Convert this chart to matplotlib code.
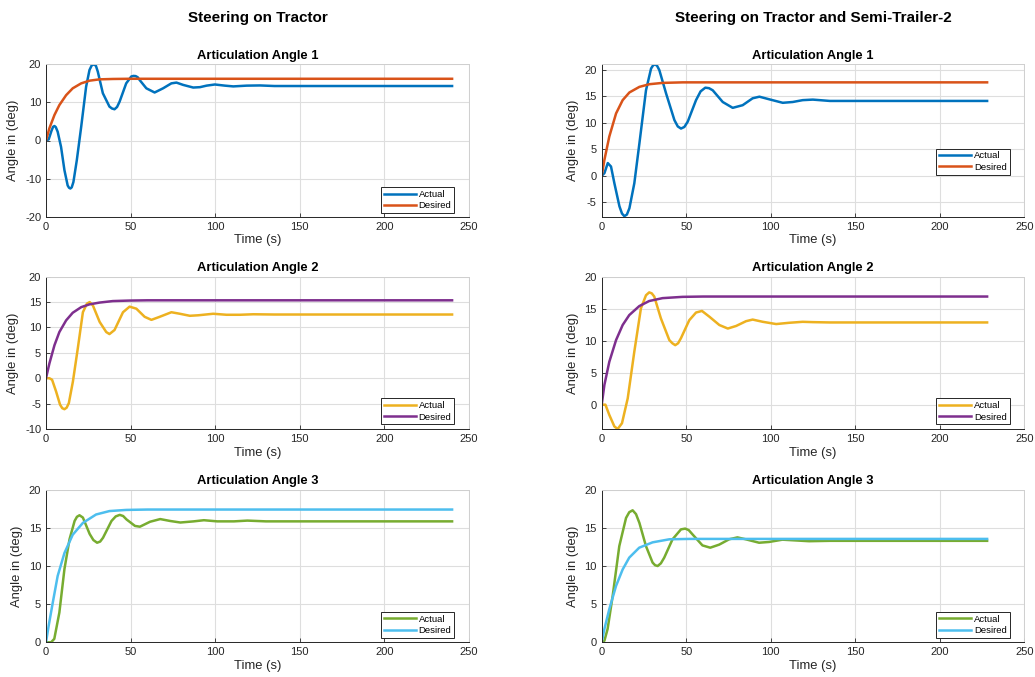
import numpy as np
import matplotlib
matplotlib.use('Agg')
import matplotlib.pyplot as plt

plt.rcParams['font.family'] = ['Liberation Sans', 'DejaVu Sans']
plt.rcParams['axes.unicode_minus'] = False
plt.rcParams['xtick.direction'] = 'in'
plt.rcParams['ytick.direction'] = 'in'

# ---- data ----
# tractor steering, angle 1
t_a1 = [0, 1.6, 3.2, 4.2, 5, 5.8, 6.9, 8.9, 10.9, 12.8, 13.6, 14.4, 15.2, 16.2, 18.2, 20.8,
        23.7, 25.7, 27, 28.3, 29.5, 30.6, 33.6, 37.5, 39, 40.5, 42, 43.5, 47.4, 50.4, 51.7,
        53, 54.2, 55.3, 59.3, 64.2, 69.2, 74.1, 77.1, 81, 87, 91, 94.9, 99.8, 105.7, 110.7,
        118.6, 126.5, 135, 240]
act_a1 = [0, 0.3, 2.5, 3.6, 3.8, 3.5, 2.3, -1.7, -7.8, -11.8, -12.4, -12.6, -12.3, -10.9, -5.2,
          3.6, 14.1, 18.5, 19.7, 20, 19.6, 18.1, 12.4, 8.9, 8.4, 8.2, 8.8, 10.2, 15.0, 16.8,
          16.95, 16.9, 16.6, 15.9, 13.7, 12.6, 13.7, 15.0, 15.2, 14.6, 13.9, 14.0, 14.4, 14.7,
          14.4, 14.2, 14.4, 14.45, 14.3, 14.3]
t_d1 = [0, 2, 5, 7.9, 11.9, 15.8, 20.8, 25.7, 31.6, 39.5, 49.4, 60, 240]
des_a1 = [0, 3.2, 6.7, 9.3, 11.9, 13.7, 15.0, 15.7, 16.05, 16.15, 16.2, 16.2, 16.2]

# tractor steering, angle 2
t_a2 = [0, 2, 3.6, 5.95, 8.3, 9.6, 10.9, 12.2, 13.5, 15.9, 18.8, 21.8, 24.2, 25.8, 27.7, 31.7,
        35.6, 37.5, 40.5, 45.5, 49.4, 53.4, 58.3, 62.3, 67.2, 74.1, 79.1, 85, 90, 98.8, 106.7,
        114.6, 122.5, 135, 240]
act_a2 = [0, 0, -0.3, -2.6, -5.2, -5.9, -6.1, -5.8, -4.9, -0.65, 5.9, 13.0, 14.7, 15.0, 14.35,
          11.1, 9.1, 8.7, 9.5, 13.0, 14.1, 13.7, 12.1, 11.5, 12.1, 13.0, 12.7, 12.3, 12.4, 12.7,
          12.5, 12.5, 12.6, 12.55, 12.55]
t_d2 = [0, 2, 5, 7.9, 11.9, 15.8, 20.8, 25.7, 31.6, 39.5, 49.4, 60, 240]
des_a2 = [0, 2.9, 6.5, 9.1, 11.4, 12.9, 14.0, 14.55, 14.9, 15.2, 15.3, 15.35, 15.35]

# tractor steering, angle 3
t_a3 = [0, 3, 4.9, 7.9, 10.9, 13.9, 16.9, 18.3, 19.8, 21.8, 25.8, 28, 30.2, 32, 33.7, 38.7,
        41.2, 43.6, 45.6, 47.6, 52.6, 55.5, 61.5, 67.5, 73.4, 79.4, 87.3, 93.3, 101.2, 111.1,
        119, 130, 240]
act_a3 = [0, 0, 0.45, 3.9, 9.6, 13.5, 15.9, 16.45, 16.65, 16.35, 14.2, 13.4, 13.05, 13.2, 13.7,
          15.9, 16.5, 16.7, 16.55, 16.1, 15.25, 15.15, 15.8, 16.15, 15.9, 15.7, 15.85, 16.0,
          15.85, 15.85, 15.95, 15.85, 15.85]
t_d3 = [0, 1.6, 4, 6.9, 10.9, 15.8, 21.8, 29.6, 37.5, 47.4, 60, 240]
des_a3 = [0, 2.2, 5.2, 8.7, 11.7, 14.1, 15.65, 16.75, 17.2, 17.35, 17.4, 17.4]

# tractor + semi-trailer-2 steering, angle 1
t_b1 = [0, 1.6, 3.6, 5.5, 7.5, 10.5, 12, 13.4, 14.9, 16.4, 19.3, 22.3, 26.2, 29.2, 30.4, 31.6,
        32.8, 34.1, 38.1, 43, 45, 46.9, 48.9, 50.9, 55.8, 58.5, 61.3, 63.5, 65.7, 71.6, 77.5,
        83.4, 89.3, 93.3, 99.2, 107.1, 113, 118.9, 124.9, 135, 228]
act_b1 = [0, 0.5, 2.4, 1.75, -1.4, -5.75, -7.1, -7.6, -7.3, -6.1, -1.4, 6.1, 16.1, 20.2, 20.8,
          21, 20.7, 19.9, 15.5, 10.5, 9.3, 8.9, 9.2, 10.2, 14.25, 15.9, 16.6, 16.5, 16.1, 13.9,
          12.8, 13.3, 14.6, 14.9, 14.4, 13.75, 13.9, 14.25, 14.35, 14.1, 14.1]
t_e1 = [0, 1.6, 4.5, 8.5, 12.4, 16.4, 22.3, 28.2, 36.1, 48, 60, 228]
des_b1 = [0, 3, 7.4, 11.75, 14.25, 15.7, 16.75, 17.25, 17.5, 17.6, 17.6, 17.6]

# tractor + semi-trailer-2 steering, angle 2
t_b2 = [0, 2.2, 4.5, 7.5, 9.45, 12, 15.4, 19.3, 23.2, 26.2, 28.1, 29.6, 31.1, 35, 40, 41.8,
        43.5, 45.2, 46.9, 51.8, 55.8, 59.3, 63.7, 69.6, 74.6, 79.5, 85.4, 89.3, 95.3, 103.2,
        111, 118.9, 124.9, 135, 228]
act_b2 = [0, 0, -1.6, -3.4, -3.8, -2.9, 1.0, 8.3, 15.05, 17.1, 17.55, 17.4, 16.9, 13.5, 10.1,
          9.6, 9.3, 9.6, 10.4, 13.2, 14.4, 14.65, 13.75, 12.45, 11.9, 12.3, 13.05, 13.3, 12.95,
          12.6, 12.8, 12.95, 12.9, 12.85, 12.85]
t_e2 = [0, 1.6, 4.5, 8.5, 12.4, 16.3, 22.2, 28.1, 36, 47.8, 60, 228]
des_b2 = [0, 3.1, 6.7, 10.1, 12.45, 14.0, 15.4, 16.2, 16.65, 16.85, 16.9, 16.9]

# tractor + semi-trailer-2 steering, angle 3
t_b3 = [0, 1.6, 3.5, 6.5, 10.4, 14.4, 16.3, 18.3, 20.3, 22.3, 26.2, 30.1, 31.6, 33.1, 35, 37,
        41.9, 46.9, 49.4, 51.5, 53.7, 59.6, 64.2, 69.5, 75.4, 80.3, 85.2, 93.1, 99, 106.9,
        114.8, 122.7, 135, 228]
act_b3 = [0, 0.2, 1.75, 6.1, 12.6, 16.3, 17.05, 17.3, 16.8, 15.65, 12.6, 10.45, 10.1, 10.0,
          10.35, 11.1, 13.5, 14.8, 14.9, 14.7, 14.15, 12.7, 12.4, 12.8, 13.5, 13.75, 13.5, 13.05,
          13.15, 13.45, 13.35, 13.25, 13.3, 13.3]
t_e3 = [0, 1.6, 4.5, 8.5, 12.4, 16.3, 22.2, 30.1, 40, 51.8, 65, 228]
des_b3 = [0, 1.75, 4.35, 7.4, 9.55, 11.1, 12.4, 13.1, 13.5, 13.55, 13.55, 13.55]

titles = ['Articulation Angle 1', 'Articulation Angle 2', 'Articulation Angle 3']
col_titles = ['Steering on Tractor', 'Steering on Tractor and Semi-Trailer-2']
act_colors = ['#0072BD', '#EDB120', '#77AC30']
des_colors = ['#D95319', '#7E2F8E', '#4DBEEE']

panels = [
    [(t_a1, act_a1, t_d1, des_a1), (t_a2, act_a2, t_d2, des_a2), (t_a3, act_a3, t_d3, des_a3)],
    [(t_b1, act_b1, t_e1, des_b1), (t_b2, act_b2, t_e2, des_b2), (t_b3, act_b3, t_e3, des_b3)],
]
ylims = [[(-20, 20), (-10, 20), (0, 20)],
         [(-7.7, 21), (-3.8, 20), (0, 20)]]
yticks = [[np.arange(-20, 21, 10), np.arange(-10, 21, 5), np.arange(0, 21, 5)],
          [np.arange(-5, 21, 5), np.arange(0, 21, 5), np.arange(0, 21, 5)]]
leg_y = [[0.024, 0.03, 0.03], [0.276, 0.03, 0.03]]

W, H = 1035, 677
fig = plt.figure(figsize=(W / 100, H / 100), dpi=100)
col_x = [(46, 469), (601.7, 1024.3)]
row_y = [(64.3, 216.7), (276.7, 429), (489.7, 642.3)]

for c in range(2):
    for r in range(3):
        x0, x1 = col_x[c]
        y0, y1 = row_y[r]
        ax = fig.add_axes([x0 / W, 1 - y1 / H, (x1 - x0) / W, (y1 - y0) / H])
        ta, ya, td, yd = panels[c][r]
        ax.plot(ta, ya, color=act_colors[r], lw=1.8, label='Actual', solid_joinstyle='round')
        ax.plot(td, yd, color=des_colors[r], lw=1.8, label='Desired', solid_joinstyle='round')
        ax.set_xlim(0, 250)
        ax.set_ylim(*ylims[c][r])
        ax.set_xticks(np.arange(0, 251, 50))
        ax.set_yticks(yticks[c][r])
        ax.grid(True, color='#dedede', lw=0.8)
        ax.set_axisbelow(True)
        ax.tick_params(labelsize=8, colors='#262626', length=3, width=0.6)
        for s in ('left', 'bottom'):
            ax.spines[s].set_color('#262626')
            ax.spines[s].set_linewidth(0.7)
        for s in ('top', 'right'):
            ax.spines[s].set_color('#cfcfcf')
            ax.spines[s].set_linewidth(0.7)
        ax.set_title(titles[r], fontsize=9.4, fontweight='bold', pad=4)
        ax.set_xlabel('Time (s)', fontsize=9.4, color='#262626', labelpad=2)
        ax.set_ylabel('Angle in (deg)', fontsize=9.4, color='#262626', labelpad=4)
        leg = ax.legend(loc='lower right', bbox_to_anchor=(0.965, leg_y[c][r]),
                        borderaxespad=0, fontsize=6.8, fancybox=False, framealpha=1,
                        edgecolor='#262626', handlelength=3.4, handletextpad=0.3,
                        labelspacing=0.25, borderpad=0.3)
        leg.get_frame().set_linewidth(0.7)

fig.text(257.5 / W, 1 - 18 / H, col_titles[0], ha='center', va='center',
         fontsize=11, fontweight='bold')
fig.text(813 / W, 1 - 18 / H, col_titles[1], ha='center', va='center',
         fontsize=11, fontweight='bold')

fig.savefig('out.png', dpi=100)
